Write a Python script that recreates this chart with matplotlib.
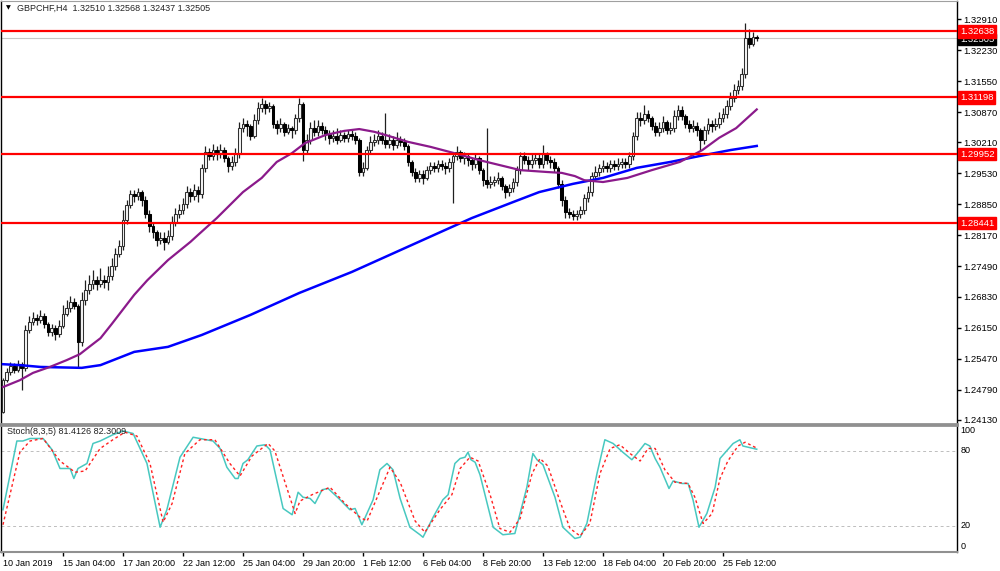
import matplotlib.pyplot as plt
from matplotlib.transforms import blended_transform_factory

plt.rcParams['font.family'] = ['Liberation Sans', 'DejaVu Sans']

# H4 candles (open = previous close)
first_open = 1.2431
close = [
    1.2500, 1.2518, 1.2531, 1.2522, 1.2535, 1.2527, 1.2610, 1.2627, 1.2636, 1.2632,
    1.2641, 1.2623, 1.2606, 1.2614, 1.2601, 1.2619, 1.2645, 1.2658, 1.2671, 1.2662,
    1.2584, 1.2676, 1.2698, 1.2711, 1.2719, 1.2711, 1.2719, 1.2715, 1.2728, 1.2750,
    1.2776, 1.2794, 1.2851, 1.2884, 1.2908, 1.2903, 1.2912, 1.2895, 1.2864, 1.2838,
    1.2825, 1.2807, 1.2811, 1.2803, 1.2816, 1.2846, 1.2864, 1.2873, 1.2886, 1.2912,
    1.2903, 1.2917, 1.2908, 1.2965, 1.3000, 1.2991, 1.3004, 1.2995, 1.3004, 1.2987,
    1.2969, 1.2978, 1.2995, 1.3052, 1.3061, 1.3057, 1.3035, 1.3070, 1.3096, 1.3105,
    1.3096, 1.3100, 1.3061, 1.3052, 1.3061, 1.3044, 1.3052, 1.3048, 1.3074, 1.3105,
    1.3004, 1.3026, 1.3052, 1.3044, 1.3057, 1.3048, 1.3039, 1.3030, 1.3035, 1.3026,
    1.3037, 1.3030, 1.3039, 1.3035, 1.3026, 1.2956, 1.2965, 1.3004, 1.3022, 1.3026,
    1.3035, 1.3026, 1.3017, 1.3026, 1.3015, 1.3026, 1.3022, 1.3013, 1.2978, 1.2956,
    1.2943, 1.2952, 1.2943, 1.2960, 1.2969, 1.2965, 1.2973, 1.2969, 1.2965, 1.2978,
    1.2991, 1.3000, 1.2987, 1.2991, 1.2982, 1.2973, 1.2987, 1.2960, 1.2938, 1.2930,
    1.2934, 1.2938, 1.2943, 1.2925, 1.2912, 1.2921, 1.2934, 1.2960, 1.2991, 1.2982,
    1.2973, 1.2982, 1.2987, 1.2973, 1.2995, 1.2982, 1.2978, 1.2965, 1.2930, 1.2895,
    1.2868, 1.2864, 1.2860, 1.2864, 1.2873, 1.2899, 1.2912, 1.2947, 1.2956, 1.2965,
    1.2969, 1.2965, 1.2973, 1.2969, 1.2973, 1.2978, 1.2973, 1.2991, 1.3035, 1.3074,
    1.3070, 1.3083, 1.3074, 1.3057, 1.3044, 1.3052, 1.3065, 1.3048, 1.3052, 1.3079,
    1.3092, 1.3079, 1.3061, 1.3052, 1.3057, 1.3048, 1.3026, 1.3048, 1.3061, 1.3057,
    1.3061, 1.3074, 1.3083, 1.3100, 1.3118, 1.3136, 1.3144, 1.3171, 1.3249, 1.3237,
    1.3251, 1.32505,
]
high = [
    1.2505, 1.2527, 1.2540, 1.2538, 1.2544, 1.2540, 1.2621, 1.2640, 1.2649, 1.2645,
    1.2653, 1.2648, 1.2627, 1.2623, 1.2621, 1.2632, 1.2665, 1.2675, 1.2684, 1.2680,
    1.2667, 1.2693, 1.2720, 1.2730, 1.2741, 1.2728, 1.2745, 1.2730, 1.2750, 1.2767,
    1.2789, 1.2807, 1.2873, 1.2895, 1.2917, 1.2917, 1.2921, 1.2917, 1.2903, 1.2873,
    1.2847, 1.2829, 1.2825, 1.2825, 1.2829, 1.2860, 1.2877, 1.2886, 1.2899, 1.2925,
    1.2921, 1.2930, 1.2925, 1.2973, 1.3013, 1.3008, 1.3017, 1.3013, 1.3017, 1.3010,
    1.2991, 1.2991, 1.3008, 1.3065, 1.3074, 1.3070, 1.3061, 1.3083, 1.3109, 1.3118,
    1.3113, 1.3109, 1.3105, 1.3070, 1.3074, 1.3065, 1.3061, 1.3057, 1.3083, 1.3118,
    1.3109, 1.3039, 1.3065, 1.3070, 1.3070, 1.3065, 1.3057, 1.3048, 1.3048, 1.3052,
    1.3048, 1.3044, 1.3048, 1.3048, 1.3044, 1.3030, 1.2978, 1.3013, 1.3035, 1.3039,
    1.3048, 1.3044, 1.3085, 1.3039, 1.3035, 1.3044, 1.3035, 1.3030, 1.3017, 1.2982,
    1.2965, 1.2960, 1.2960, 1.2969, 1.2978, 1.2978, 1.2982, 1.2982, 1.2978, 1.2987,
    1.3000, 1.3013, 1.3004, 1.3000, 1.2995, 1.2987, 1.2995, 1.2991, 1.2965, 1.3052,
    1.2947, 1.2947, 1.2956, 1.2947, 1.2930, 1.2930, 1.2943, 1.2969, 1.3000, 1.3000,
    1.2991, 1.2995, 1.2995, 1.2995, 1.3015, 1.3000, 1.2991, 1.2987, 1.2969, 1.2938,
    1.2903, 1.2877, 1.2873, 1.2873, 1.2882, 1.2908, 1.2925, 1.2956, 1.2969, 1.2973,
    1.2982, 1.2978, 1.2982, 1.2982, 1.2987, 1.2987, 1.2987, 1.3000, 1.3044, 1.3087,
    1.3087, 1.3103, 1.3092, 1.3079, 1.3065, 1.3065, 1.3079, 1.3070, 1.3065, 1.3092,
    1.3103, 1.3100, 1.3083, 1.3070, 1.3070, 1.3065, 1.3052, 1.3057, 1.3074, 1.3070,
    1.3074, 1.3087, 1.3096, 1.3113, 1.3131, 1.3149, 1.3158, 1.3184, 1.3282, 1.3270,
    1.3262, 1.32568,
]
low = [
    1.2429, 1.2495, 1.2512, 1.2516, 1.2518, 1.2479, 1.2520, 1.2603, 1.2620, 1.2620,
    1.2625, 1.2614, 1.2597, 1.2597, 1.2588, 1.2595, 1.2614, 1.2640, 1.2649, 1.2656,
    1.2527, 1.2575, 1.2665, 1.2689, 1.2700, 1.2698, 1.2704, 1.2702, 1.2698, 1.2720,
    1.2741, 1.2769, 1.2785, 1.2843, 1.2877, 1.2890, 1.2895, 1.2882, 1.2855, 1.2825,
    1.2812, 1.2794, 1.2798, 1.2785, 1.2798, 1.2807, 1.2838, 1.2855, 1.2864, 1.2877,
    1.2890, 1.2895, 1.2890, 1.2899, 1.2956, 1.2982, 1.2982, 1.2982, 1.2987, 1.2978,
    1.2956, 1.2960, 1.2969, 1.2987, 1.3044, 1.3035, 1.3026, 1.3030, 1.3061, 1.3087,
    1.3083, 1.3087, 1.3052, 1.3039, 1.3044, 1.3035, 1.3039, 1.3030, 1.3039, 1.3065,
    1.2979, 1.2995, 1.3017, 1.3035, 1.3035, 1.3039, 1.3026, 1.3017, 1.3022, 1.3017,
    1.3022, 1.3022, 1.3022, 1.3026, 1.3017, 1.2947, 1.2947, 1.2960, 1.2995, 1.3013,
    1.3017, 1.3017, 1.3008, 1.3008, 1.3004, 1.3008, 1.3013, 1.3004, 1.2969, 1.2947,
    1.2934, 1.2934, 1.2930, 1.2938, 1.2952, 1.2956, 1.2956, 1.2960, 1.2952, 1.2956,
    1.2888, 1.2982, 1.2978, 1.2973, 1.2969, 1.2960, 1.2965, 1.2952, 1.2925, 1.2921,
    1.2921, 1.2925, 1.2930, 1.2917, 1.2899, 1.2903, 1.2912, 1.2925, 1.2952, 1.2973,
    1.2960, 1.2965, 1.2973, 1.2965, 1.2965, 1.2973, 1.2965, 1.2956, 1.2921, 1.2882,
    1.2855, 1.2855, 1.2851, 1.2851, 1.2855, 1.2864, 1.2890, 1.2903, 1.2938, 1.2947,
    1.2956, 1.2956, 1.2956, 1.2960, 1.2960, 1.2965, 1.2965, 1.2965, 1.2982, 1.3026,
    1.3057, 1.3061, 1.3065, 1.3048, 1.3035, 1.3035, 1.3044, 1.3039, 1.3039, 1.3044,
    1.3070, 1.3070, 1.3052, 1.3044, 1.3044, 1.3035, 1.3004, 1.3017, 1.3039, 1.3044,
    1.3048, 1.3052, 1.3065, 1.3074, 1.3092, 1.3109, 1.3127, 1.3136, 1.3162, 1.3228,
    1.3232, 1.32437,
]

# moving averages (bar index, price)
ma_fast_bar = [0, 4.5, 8, 12.5, 17, 20.5, 23, 26, 29, 35, 38.5, 44, 50, 52, 57, 64, 69, 73,
               77, 80.5, 86, 91, 95, 99, 102, 108, 114, 120, 127, 132.5, 138, 145, 149,
               152.5, 155, 160, 166.5, 173, 180.5, 186.5, 191, 195.5, 201]
ma_fast = [1.2485, 1.2500, 1.2516, 1.2529, 1.2544, 1.2557, 1.2573, 1.2592, 1.2623, 1.2687,
           1.2719, 1.2763, 1.2803, 1.2818, 1.2855, 1.2912, 1.2943, 1.2978, 1.2997, 1.3019,
           1.3037, 1.3046, 1.3050, 1.3044, 1.3037, 1.3022, 1.3011, 1.2998, 1.2982, 1.2971,
           1.2960, 1.2956, 1.2954, 1.2947, 1.2938, 1.2934, 1.2943, 1.2960, 1.2978, 1.3004,
           1.3031, 1.3052, 1.3093]
ma_slow_bar = [0, 4.5, 10, 21, 26, 35, 44, 53, 66, 79, 93, 106, 119, 125, 136, 143, 152,
               160, 169, 178, 187, 194, 201]
ma_slow = [1.2535, 1.2533, 1.2529, 1.2527, 1.2533, 1.2562, 1.2573, 1.2599, 1.2643, 1.2691,
           1.2737, 1.2785, 1.2833, 1.2855, 1.2890, 1.2912, 1.2930, 1.2943, 1.2965, 1.2978,
           1.2993, 1.3004, 1.3013]

# Stoch(8,3,5)
k_bar = [0, 3.7, 5.3, 7.2, 10.7, 13.1, 15.2, 17.9, 18.9, 20, 22.4, 24, 25.9, 29.3, 32, 34.7,
         38.4, 41.9, 43.7, 47.2, 50.7, 52.5, 56, 57.9, 59.7, 61.9, 62.7, 64, 65.3, 67.7, 69.9,
         71.2, 74.7, 77.1, 78.7, 80, 81.9, 83.2, 85.1, 86.7, 89.9, 92.5, 93.9, 95.7, 98.7,
         100.5, 102.4, 104, 105.9, 108.5, 111.2, 112, 114.7, 117.3, 118.7, 120.5, 121.9, 123.2,
         124, 124.8, 125.9, 127.2, 130.7, 133.3, 136.5, 139.7, 141.3, 142.4, 144, 147.2, 149.3,
         152.5, 153.9, 155.7, 158.4, 160.5, 162.7, 165.3, 167.7, 169.1, 171.2, 172.5, 173.9,
         175.2, 177.6, 178.7, 181.1, 182.7, 184, 185.6, 187.7, 189.9, 191.2, 194.7, 196.5,
         197.3, 201]
k_val = [33, 88, 88, 90, 90, 81, 66, 66, 58, 66, 70, 86, 88, 93, 96, 94,
         70, 19, 33, 75, 91, 90, 88, 82, 67, 58, 58, 70, 73, 84, 85,
         81, 34, 29, 47, 43, 42, 38, 49, 50, 41, 33, 34, 21, 41,
         65, 70, 65, 42, 19, 13, 11, 27, 41, 45, 70, 74, 75,
         79, 73, 71, 61, 19, 13, 14, 51, 78, 73, 69, 43, 19,
         10, 11, 22, 62, 89, 86, 79, 73, 78, 86, 84, 74,
         67, 50, 56, 54, 54, 41, 19, 30, 51, 74, 86, 89,
         84, 81.4126]
d_bar = [0, 4.5, 7.2, 10.7, 15.2, 19.2, 21.9, 25.9, 29.3, 32.5, 35.7, 39.2, 42.7, 45.1, 48.5,
         52.5, 56.5, 60.5, 63.2, 66.4, 70.7, 72.5, 77.9, 79.2, 82.4, 87.2, 91.2, 95.2, 97.1,
         100.5, 103.2, 105.9, 109.9, 112.5, 116.5, 119.7, 121.9, 124.5, 126.7, 129.9, 132.5,
         135.2, 137.9, 141.1, 143.2, 145.3, 148.5, 151.2, 153.9, 156.5, 159.2, 161.9, 164.5,
         167.2, 169.9, 172, 173.9, 176.5, 179.2, 182.7, 184.5, 186.7, 189.1, 191.2, 193.3,
         196, 197.9, 201]
d_val = [21, 79, 88, 90, 72, 63, 64, 82, 89, 95, 92, 70, 23, 38, 78,
         89, 89, 70, 60, 76, 86, 80, 30, 40, 45, 51, 38, 27, 24,
         48, 67, 55, 24, 15, 33, 45, 66, 75, 72, 45, 18,
         15, 26, 62, 74, 68, 40, 18, 12, 22, 62, 82, 85,
         78, 72, 82, 82, 65, 55, 54, 43, 22, 30, 58, 72,
         84, 87, 82.3009]

levels = [1.32638, 1.31198, 1.29952, 1.28441]
bid = 1.32505
price_ticks = [1.32910, 1.32230, 1.31550, 1.30870, 1.30210, 1.29530, 1.28850,
               1.28170, 1.27490, 1.26830, 1.26150, 1.25470, 1.24790, 1.24130]
date_bars = [0, 16, 32, 48, 64, 80, 96, 112, 128, 144, 160, 176, 192]
date_labels = ['10 Jan 2019', '15 Jan 04:00', '17 Jan 20:00', '22 Jan 12:00', '25 Jan 04:00',
               '29 Jan 20:00', '1 Feb 12:00', '6 Feb 04:00', '8 Feb 20:00', '13 Feb 12:00',
               '18 Feb 04:00', '20 Feb 20:00', '25 Feb 12:00']

fs = 6.5
fig = plt.figure(figsize=(10, 5.71), dpi=100)
ax = fig.add_axes([0.001, 0.2574, 0.956, 0.7408])
ax2 = fig.add_axes([0.001, 0.0333, 0.956, 0.2224])

opens = [first_open] + close[:-1]
bars = list(range(len(close)))

# candles
ax.vlines(bars, low, high, color='#202020', lw=0.9, zorder=3)
up = [i for i in bars if close[i] >= opens[i]]
dn = [i for i in bars if close[i] < opens[i]]
ax.bar(up, [max(close[i] - opens[i], 0.00004) for i in up],
       bottom=[opens[i] for i in up], width=0.7,
       facecolor='#f4f4f4', edgecolor='#303030', lw=0.75, zorder=4)
ax.bar(dn, [opens[i] - close[i] for i in dn],
       bottom=[close[i] for i in dn], width=0.7,
       facecolor='black', edgecolor='black', lw=0.75, zorder=4)

ax.plot(ma_slow_bar, ma_slow, color='#0000ff', lw=1.8, zorder=5)
ax.plot(ma_fast_bar, ma_fast, color='#8b1a8b', lw=1.6, zorder=5)

for lv in levels:
    ax.axhline(lv, color='#ff0000', lw=1.6, zorder=6)
ax.axhline(bid, color='#c8c8c8', lw=0.8, zorder=2)

ax.set_xlim(-0.53, 254.4)
ax.set_ylim(1.24040, 1.33304)
ax.set_xticks([])
ax.yaxis.tick_right()
ax.set_yticks(price_ticks)
ax.set_yticklabels([f'{t:.5f}' for t in price_ticks])
ax.tick_params(axis='y', length=3, width=1, pad=1.5, labelsize=6.8, colors='black')

tr = blended_transform_factory(ax.transAxes, ax.transData)
# bid box sits just under the 1.32638 box, partly hidden as in the terminal
ax.text(1.003, 1.32461, f'{bid:.5f}', transform=tr, color='white', fontsize=6.8,
        va='center', ha='left', zorder=7,
        bbox=dict(boxstyle='square,pad=0.15', fc='black', ec='black'))
for lv in levels:
    ax.text(1.003, lv, f'{lv:.5f}', transform=tr, color='white', fontsize=6.8,
            va='center', ha='left', zorder=8,
            bbox=dict(boxstyle='square,pad=0.2', fc='#ff0000', ec='#ff0000'))

# stochastic panel
ax2.axhline(80, color='#bdbdbd', lw=0.7, ls=(0, (3, 3)))
ax2.axhline(20, color='#bdbdbd', lw=0.7, ls=(0, (3, 3)))
ax2.plot(k_bar, k_val, color='#48c8c0', lw=1.1)
ax2.plot(d_bar, d_val, color='#ff2020', lw=1.0, ls=(0, (2, 2)))
ax2.set_xlim(-0.53, 254.4)
ax2.set_ylim(-0.8, 100.8)
ax2.set_yticks([])
ax2.set_xticks(date_bars)
ax2.set_xticklabels(date_labels, ha='left')
ax2.tick_params(axis='x', length=3, width=1, pad=2, labelsize=fs, colors='black')

tr2 = blended_transform_factory(ax2.transAxes, ax2.transData)
ax2.text(1.004, 100, '100', transform=tr2, fontsize=fs, va='top', ha='left')
ax2.text(1.004, 80, '80', transform=tr2, fontsize=fs, va='center', ha='left')
ax2.text(1.004, 20, '20', transform=tr2, fontsize=fs, va='center', ha='left')
ax2.text(1.004, 0, '0', transform=tr2, fontsize=fs, va='bottom', ha='left')

for a in (ax, ax2):
    for s in ('left', 'right'):
        a.spines[s].set_color('black')
        a.spines[s].set_linewidth(1)
ax.spines['top'].set_color('#a0a0a0')
ax.spines['bottom'].set_color('#909090')
ax.spines['bottom'].set_linewidth(2)
ax2.spines['top'].set_color('#909090')
ax2.spines['top'].set_linewidth(2)
ax2.spines['bottom'].set_color('#909090')
ax2.spines['bottom'].set_linewidth(1.5)

fig.text(0.006, 1 - 8 / 571, '\u25bc', fontsize=4.5, va='center', family='DejaVu Sans')
fig.text(0.017, 1 - 8 / 571, 'GBPCHF,H4  1.32510 1.32568 1.32437 1.32505',
         fontsize=fs, va='center', color='#222222')
fig.text(0.007, 1 - 432 / 571, 'Stoch(8,3,5) 81.4126 82.3009',
         fontsize=fs, va='center', color='#222222')

fig.savefig('out.png', dpi=100)
